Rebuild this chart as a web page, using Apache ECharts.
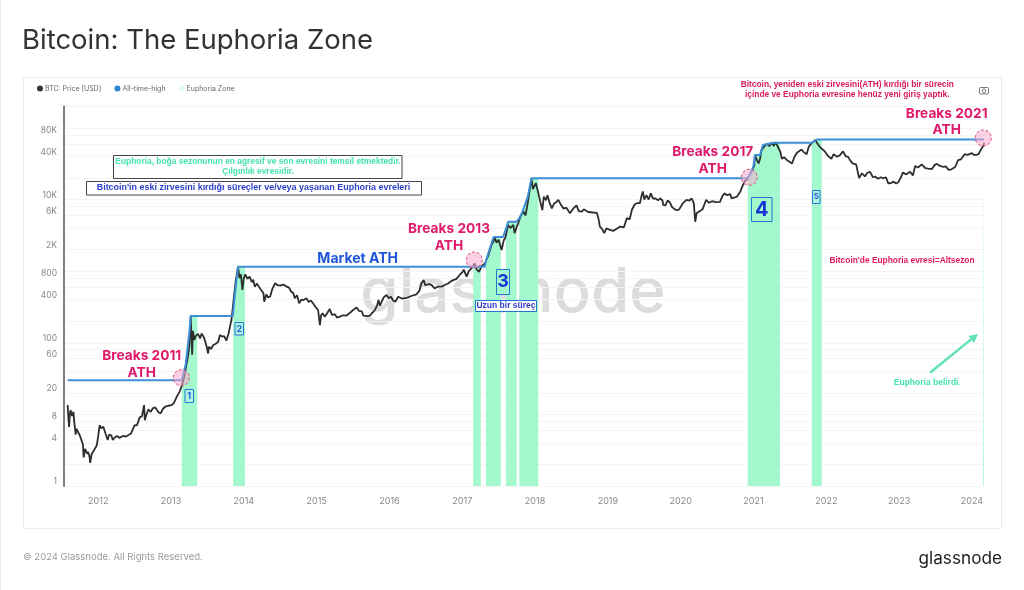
<!DOCTYPE html>
<html>
<head>
<meta charset="utf-8">
<title>Bitcoin: The Euphoria Zone</title>
<script src="https://cdn.jsdelivr.net/npm/echarts@6/dist/echarts.min.js"></script>
<style>
  html, body { margin: 0; padding: 0; background: #fff; }
  #main { width: 1024px; height: 590px; }
</style>
</head>
<body>
<div id="main"></div>
<script>
// values, x is a decimal year
const yearTicks = [2012, 2013, 2014, 2015, 2016, 2017, 2018, 2019, 2020, 2021, 2022, 2023, 2024]
const priceTicks = [1, 4, 8, 20, 60, 100, 400, 800, 2000, 6000, 10000, 40000, 80000]
const gridValues = [1, 2, 4, 6, 8, 10, 20, 40, 60, 80, 100, 200, 400, 600, 800, 1000, 2000, 4000, 6000, 8000, 10000, 20000, 40000, 60000, 80000, 100000, 200000]

const priceYears = [
  2011.58, 2011.59, 2011.60, 2011.61, 2011.62, 2011.64, 2011.66, 2011.67, 2011.69, 2011.70,
  2011.73, 2011.75, 2011.77, 2011.79, 2011.80, 2011.82, 2011.83, 2011.85, 2011.86, 2011.88,
  2011.89, 2011.91, 2011.93, 2011.95, 2011.98, 2012.00, 2012.02, 2012.04, 2012.07, 2012.10,
  2012.13, 2012.15, 2012.18, 2012.20, 2012.23, 2012.26, 2012.29, 2012.34, 2012.38, 2012.41,
  2012.45, 2012.50, 2012.53, 2012.57, 2012.60, 2012.63, 2012.64, 2012.66, 2012.69, 2012.72,
  2012.75, 2012.78, 2012.81, 2012.83, 2012.86, 2012.89, 2012.92, 2012.96, 2013.01, 2013.04,
  2013.08, 2013.12, 2013.15, 2013.18, 2013.20, 2013.23, 2013.25, 2013.27, 2013.29, 2013.30,
  2013.32, 2013.34, 2013.37, 2013.40, 2013.42, 2013.45, 2013.47, 2013.49, 2013.51, 2013.52,
  2013.55, 2013.58, 2013.61, 2013.65, 2013.67, 2013.70, 2013.73, 2013.75, 2013.76, 2013.79,
  2013.81, 2013.83, 2013.86, 2013.89, 2013.92, 2013.94, 2013.96, 2013.98, 2014.00, 2014.02,
  2014.05, 2014.08, 2014.11, 2014.13, 2014.15, 2014.18, 2014.20, 2014.23, 2014.25, 2014.27,
  2014.28, 2014.31, 2014.33, 2014.36, 2014.39, 2014.43, 2014.46, 2014.50, 2014.54, 2014.59,
  2014.62, 2014.65, 2014.68, 2014.70, 2014.73, 2014.76, 2014.79, 2014.82, 2014.86, 2014.89,
  2014.92, 2014.95, 2014.98, 2015.02, 2015.045, 2015.06, 2015.08, 2015.11, 2015.14, 2015.18,
  2015.21, 2015.25, 2015.28, 2015.32, 2015.36, 2015.41, 2015.45, 2015.50, 2015.55, 2015.58,
  2015.62, 2015.64, 2015.66, 2015.70, 2015.73, 2015.77, 2015.80, 2015.83, 2015.85, 2015.87,
  2015.89, 2015.92, 2015.96, 2015.99, 2016.02, 2016.05, 2016.08, 2016.12, 2016.17, 2016.24,
  2016.30, 2016.37, 2016.41, 2016.44, 2016.47, 2016.49, 2016.51, 2016.55, 2016.58, 2016.62,
  2016.67, 2016.72, 2016.76, 2016.81, 2016.86, 2016.92, 2016.97, 2017.00, 2017.02, 2017.04,
  2017.06, 2017.09, 2017.13, 2017.17, 2017.20, 2017.23, 2017.27, 2017.31, 2017.36, 2017.40,
  2017.45, 2017.47, 2017.50, 2017.52, 2017.54, 2017.57, 2017.59, 2017.63, 2017.66, 2017.70,
  2017.72, 2017.75, 2017.77, 2017.80, 2017.84, 2017.87, 2017.91, 2017.95, 2017.97, 2017.985,
  2018.01, 2018.04, 2018.07, 2018.10, 2018.12, 2018.15, 2018.17, 2018.20, 2018.23, 2018.26,
  2018.29, 2018.32, 2018.36, 2018.39, 2018.43, 2018.48, 2018.52, 2018.57, 2018.60, 2018.64,
  2018.67, 2018.73, 2018.79, 2018.85, 2018.87, 2018.89, 2018.92, 2018.95, 2018.98, 2019.02,
  2019.07, 2019.12, 2019.17, 2019.22, 2019.26, 2019.30, 2019.33, 2019.37, 2019.40, 2019.44,
  2019.46, 2019.48, 2019.50, 2019.53, 2019.56, 2019.59, 2019.62, 2019.65, 2019.69, 2019.72,
  2019.75, 2019.76, 2019.79, 2019.82, 2019.85, 2019.88, 2019.92, 2019.95, 2019.98, 2020.03,
  2020.08, 2020.12, 2020.15, 2020.18, 2020.20, 2020.22, 2020.24, 2020.27, 2020.30, 2020.33,
  2020.35, 2020.39, 2020.43, 2020.48, 2020.54, 2020.57, 2020.60, 2020.64, 2020.68, 2020.70,
  2020.74, 2020.77, 2020.82, 2020.85, 2020.88, 2020.91, 2020.96, 2021.01, 2021.02, 2021.05,
  2021.07, 2021.09, 2021.11, 2021.15, 2021.18, 2021.22, 2021.25, 2021.28, 2021.30, 2021.33,
  2021.35, 2021.37, 2021.39, 2021.42, 2021.46, 2021.49, 2021.53, 2021.56, 2021.59, 2021.62,
  2021.66, 2021.69, 2021.73, 2021.76, 2021.80, 2021.85, 2021.88, 2021.91, 2021.95, 2021.98,
  2022.02, 2022.07, 2022.10, 2022.15, 2022.19, 2022.23, 2022.27, 2022.30, 2022.33, 2022.36,
  2022.41, 2022.43, 2022.45, 2022.47, 2022.49, 2022.53, 2022.56, 2022.60, 2022.64, 2022.67,
  2022.71, 2022.75, 2022.78, 2022.82, 2022.85, 2022.89, 2022.92, 2022.96, 2022.99, 2023.03,
  2023.05, 2023.10, 2023.15, 2023.19, 2023.22, 2023.26, 2023.31, 2023.36, 2023.40, 2023.45,
  2023.49, 2023.52, 2023.56, 2023.61, 2023.64, 2023.68, 2023.72, 2023.77, 2023.79, 2023.81,
  2023.85, 2023.90, 2023.94, 2024.00, 2024.03, 2024.06, 2024.09, 2024.12, 2024.15, 2024.17
]
const priceValues = [
  13.5, 9, 6.7, 10, 11.5, 9.5, 10.9, 8, 5.2, 6.3,
  5.5, 5.0, 4.7, 3.8, 2.5, 3.3, 3.5, 2.8, 3.0, 2.6,
  2.1, 2.8, 3.0, 3.1, 3.7, 5.0, 7.1, 6.4, 6.7, 5.4,
  4.4, 5.2, 5.1, 4.4, 4.8, 5.0, 4.7, 5.0, 4.9, 5.1,
  5.4, 7.1, 7.0, 9.1, 9.4, 13.5, 8.3, 9.8, 11.8, 10.8,
  12.2, 12.6, 11.4, 10.6, 10.4, 12, 12.8, 13.2, 13.5, 14.5,
  17.7, 21, 25.8, 33, 43, 62, 88, 237, 68, 147,
  110, 125, 133, 115, 135, 120, 104, 88, 71, 88,
  82, 93, 96, 104, 128, 122, 124, 128, 107, 135,
  168, 208, 400, 750, 1156, 800, 900, 546, 800, 905,
  780, 840, 700, 760, 608, 670, 640, 560, 585, 491,
  375, 475, 430, 440, 560, 678, 640, 630, 650, 608,
  590, 520, 491, 420, 460, 356, 400, 395, 420, 370,
  390, 356, 320, 287, 177, 240, 258, 232, 255, 296,
  245, 250, 225, 232, 242, 240, 258, 287, 310, 280,
  275, 240, 228, 235, 240, 265, 287, 330, 395, 330,
  335, 430, 465, 420, 440, 390, 375, 440, 415, 425,
  450, 475, 530, 678, 755, 640, 678, 660, 640, 575,
  610, 608, 640, 678, 740, 780, 900, 960, 1050, 1110,
  840, 1000, 1100, 1280, 1050, 980, 1190, 1280, 1680, 2300,
  2900, 2500, 2750, 2580, 1980, 2700, 2900, 4430, 4000, 4430,
  3400, 4200, 4700, 5800, 6800, 6000, 10500, 19800, 14000, 15000,
  17000, 12900, 9500, 7100, 11000, 9800, 11500, 9000, 7500, 8800,
  9200, 9900, 8300, 7500, 7700, 6450, 7400, 8300, 6900, 6800,
  7300, 6700, 6600, 6500, 5500, 4200, 3900, 3400, 3950, 3800,
  3650, 3900, 4200, 4100, 5500, 5300, 7200, 8600, 8900, 8900,
  11000, 13000, 10000, 11500, 10000, 12200, 10300, 10400, 9800, 10400,
  9700, 8400, 8300, 9700, 9200, 7900, 7300, 7100, 7300, 8900,
  9900, 9700, 10400, 8900, 4900, 6500, 6800, 7000, 7300, 8800,
  9900, 9000, 9500, 9200, 9300, 11000, 12200, 11500, 11900, 10400,
  10700, 10900, 13000, 15500, 18000, 19000, 23300, 29500, 42000, 35000,
  32000, 37000, 49000, 55000, 60000, 56000, 62000, 56000, 63000, 56000,
  54500, 46000, 37000, 39000, 35500, 34000, 32000, 39000, 44000, 47000,
  50000, 46000, 43000, 55000, 61500, 68000, 60000, 54500, 50000, 47000,
  41000, 37000, 43000, 39500, 42000, 47000, 40000, 39500, 35000, 32000,
  31000, 29500, 20000, 21000, 23300, 21000, 23500, 24500, 20500, 21000,
  19500, 20500, 19800, 20500, 16900, 17000, 17800, 16800, 17500, 21000,
  23800, 22500, 24500, 21800, 29500, 28000, 31000, 27500, 27000, 26700,
  30500, 31500, 29500, 28500, 29000, 26000, 26500, 28500, 30000, 35500,
  36500, 43000, 42000, 44500, 42000, 42000, 43000, 49000, 55000, 62000
]

const athYears = [
  2011.58, 2013.146, 2013.20, 2013.25, 2013.27, 2013.36, 2013.85, 2013.854, 2013.87, 2013.92, 2014.015,
  2017.151, 2017.254, 2017.31, 2017.325, 2017.43, 2017.529, 2017.56, 2017.60, 2017.63, 2017.747, 2017.783, 2017.82, 2017.90, 2017.95,
  2018.044, 2020.92, 2020.96, 2021.00, 2021.02, 2021.09, 2021.13, 2021.27, 2021.364, 2021.80, 2021.87, 2021.937, 2024.155, 2024.166
]
const athValues = [
  30, 30, 49, 135, 237, 237, 237, 237, 400, 1156, 1156,
  1156, 1156, 1156, 1400, 3000, 3000, 3000, 3900, 4900, 4900, 5500, 6500, 11000, 19800,
  19800, 19800, 23300, 29500, 42000, 42000, 58000, 62000, 62000, 62000, 69000, 69000, 69000, 69000
]

const euphoriaStart = [2013.146, 2013.854, 2017.151, 2017.325, 2017.60, 2017.783, 2020.92, 2021.80, 2024.155]
const euphoriaEnd = [2013.36, 2014.015, 2017.254, 2017.529, 2017.747, 2018.044, 2021.364, 2021.937, 2024.166]

const priceData = priceYears.map((y, i) => [y, priceValues[i]])
const athData = athYears.map((y, i) => [y, athValues[i]])

// each zone runs up to the all-time-high line, null splits the areas
let zoneData = []
euphoriaStart.forEach((start, i) => {
  athData.forEach(p => {
    if (p[0] >= start && p[0] <= euphoriaEnd[i]) zoneData.push(p)
  })
  zoneData.push([euphoriaEnd[i], null])
})

const sans = 'Inter, sans-serif'
const arial = '"Liberation Sans", Arial, sans-serif'
const pink = '#e01a6b'
const blue = '#1f55d6'
const green = '#45e3ad'
const edge = '#2178d0'

function label(text, x, y, size, color, weight, family, align) {
  return {
    type: 'text',
    z: 100,
    style: {
      text: text,
      x: x,
      y: y,
      fill: color,
      font: (weight || 400) + ' ' + size + 'px ' + (family || sans),
      textAlign: align || 'center',
      textVerticalAlign: 'middle'
    }
  }
}

function box(x1, y1, x2, y2, stroke, fill) {
  return {
    type: 'rect',
    z: 99,
    shape: { x: x1, y: y1, width: x2 - x1, height: y2 - y1 },
    style: { fill: fill || '#fff', stroke: stroke, lineWidth: 1 }
  }
}

function athCircle(cx, cy) {
  return {
    type: 'circle',
    z: 99,
    shape: { cx: cx, cy: cy, r: 8 },
    style: { fill: 'rgba(247,170,205,0.55)', stroke: '#d9487a', lineWidth: 1, lineDash: [3, 2] }
  }
}

const graphics = [
  // page parts
  { type: 'rect', z: -2, shape: { x: 23.5, y: 77.5, width: 978, height: 451 }, style: { fill: '#fff', stroke: '#ececec', lineWidth: 1 } },
  { type: 'rect', z: -2, shape: { x: 0, y: 0, width: 1, height: 590 }, style: { fill: '#ececec' } },
  label('Bitcoin: The Euphoria Zone', 22, 40.5, 27.5, '#333', 400, sans, 'left'),
  label('© 2024 Glassnode. All Rights Reserved.', 23, 557.5, 9.5, '#9a9a9a', 400, sans, 'left'),
  label('glassnode', 1002, 559, 17.2, '#222', 400, sans, 'right'),
  Object.assign(label('glassnode', 513, 293, 62, '#dcdcdc', 500), { z: 0 }),

  // big pink notes
  label('Breaks 2011', 141.7, 356, 13.7, pink, 700),
  label('ATH', 141.7, 373, 13.7, pink, 700),
  label('Breaks 2013', 449, 229, 13.7, pink, 700),
  label('ATH', 449, 245.7, 13.7, pink, 700),
  label('Breaks 2017', 712.7, 152.3, 13.7, pink, 700),
  label('ATH', 712.7, 168.7, 13.7, pink, 700),
  label('Breaks 2021', 946.7, 113.7, 13.7, pink, 700),
  label('ATH', 946.7, 129.7, 13.7, pink, 700),
  athCircle(181.3, 377.7),
  athCircle(474.3, 260),
  athCircle(749.3, 177.3),
  athCircle(983.3, 138),
  label('Market ATH', 357.7, 258.7, 14, blue, 700),

  // text boxes
  box(113.5, 155.5, 402, 178.5, '#444'),
  label('Euphoria, boğa sezonunun en agresif ve son evresini temsil etmektedir.', 258, 162, 8.4, green, 700, arial),
  label('Çılgınlık evresidir.', 258, 172, 8.4, green, 700, arial),
  box(86.5, 181.5, 421.5, 195, '#444'),
  label('Bitcoin\'in eski zirvesini kırdığı süreçler ve/veya yaşanan Euphoria evreleri', 253.5, 188, 8.95, '#2c3fc8', 700, arial),
  label('Bitcoin, yeniden eski zirvesini(ATH) kırdığı bir sürecin', 847.3, 85, 8.35, '#d9195f', 700, arial),
  label('içinde ve Euphoria evresine henüz yeni giriş yaptık.', 847.3, 95, 8.35, '#d9195f', 700, arial),
  label('Bitcoin\'de Euphoria evresi=Altsezon', 902, 260.3, 8.4, '#e0185f', 700, arial),
  label('Euphoria belirdi.', 927.3, 382.3, 8.5, green, 700, arial),

  // numbered zones
  box(185, 389.5, 193.5, 402.5, edge, '#b4f3e4'),
  label('1', 189.3, 396.3, 9, '#1a5fd0', 700),
  box(235, 322.5, 243.5, 335, edge, '#b4f3e4'),
  label('2', 239.3, 329, 9, '#1a5fd0', 700),
  box(496.5, 269.5, 509.5, 294.5, edge, '#a3f8cd'),
  label('3', 503, 282, 18, '#1a35d6', 700),
  box(475.5, 300.5, 536.5, 311.5, edge, '#fff'),
  label('Uzun bir süreç', 506, 306, 8.5, '#2c3fc8', 700, arial),
  box(751.5, 197.5, 772, 221.5, edge, '#a3f8cd'),
  label('4', 761.7, 209.7, 20, '#1a35d6', 700),
  box(812.5, 190.5, 820, 203.5, edge, '#b4f3e4'),
  label('5', 816.3, 197, 8, '#1a5fd0', 700),

  // arrow next to "Euphoria belirdi."
  { type: 'line', z: 99, shape: { x1: 930, y1: 372.7, x2: 972, y2: 338.6 }, style: { stroke: '#5fe3b5', lineWidth: 2.5 } },
  { type: 'polygon', z: 99, shape: { points: [[978, 334], [968.5, 336], [974, 343]] }, style: { fill: '#5fe3b5' } },

  // camera icon
  { type: 'rect', z: 99, shape: { x: 979.5, y: 87.5, width: 9, height: 6.5, r: 1 }, style: { fill: 'none', stroke: '#777', lineWidth: 1 } },
  { type: 'circle', z: 99, shape: { cx: 984, cy: 90.7, r: 1.8 }, style: { fill: 'none', stroke: '#777', lineWidth: 1 } }
]

var myChart = echarts.init(document.getElementById('main'), null, { renderer: 'canvas' })

myChart.setOption({
  animation: false,
  backgroundColor: '#fff',
  textStyle: { fontFamily: sans },
  legend: {
    left: 32,
    top: 80,
    itemWidth: 6,
    itemHeight: 6,
    itemGap: 13,
    icon: 'circle',
    textStyle: { fontSize: 7, color: '#666', fontFamily: sans, padding: [0, 0, 0, -3] },
    data: ['BTC: Price [USD]', 'All-time-high', 'Euphoria Zone']
  },
  grid: { left: 64, right: 40, top: 106.4, bottom: 104 },
  xAxis: {
    type: 'value',
    min: 2011.53,
    max: 2024.166,
    axisLine: { show: false },
    axisTick: { show: false },
    splitLine: { show: false },
    axisLabel: {
      customValues: yearTicks,
      formatter: v => String(v),
      fontSize: 9,
      color: '#888',
      margin: 11
    }
  },
  yAxis: {
    type: 'log',
    logBase: 10,
    min: 1,
    max: 200000,
    axisLine: { show: true, lineStyle: { color: '#808080', width: 2 } },
    axisTick: { show: false, customValues: gridValues },
    splitLine: { show: true, lineStyle: { color: '#f4f4f4', width: 1 } },
    axisLabel: {
      customValues: priceTicks,
      formatter: v => (v >= 1000 ? v / 1000 + 'K' : String(v)),
      fontSize: 8.5,
      color: '#888',
      margin: 7,
      verticalAlign: 'bottom'
    }
  },
  series: [
    {
      name: 'Euphoria Zone',
      type: 'line',
      data: zoneData,
      showSymbol: false,
      connectNulls: false,
      z: 1,
      itemStyle: { color: '#e2fbf1' },
      lineStyle: { width: 0 },
      areaStyle: { color: '#a3f8cd', opacity: 1, origin: 'start' }
    },
    {
      name: 'BTC: Price [USD]',
      type: 'line',
      data: priceData,
      showSymbol: false,
      z: 3,
      itemStyle: { color: '#333' },
      lineStyle: { color: '#2e2e2e', width: 1.8 }
    },
    {
      name: 'All-time-high',
      type: 'line',
      data: athData,
      showSymbol: false,
      z: 4,
      itemStyle: { color: '#2b83d0' },
      lineStyle: { color: '#3d8fd6', width: 2 }
    }
  ],
  graphic: graphics
})
</script>
</body>
</html>
